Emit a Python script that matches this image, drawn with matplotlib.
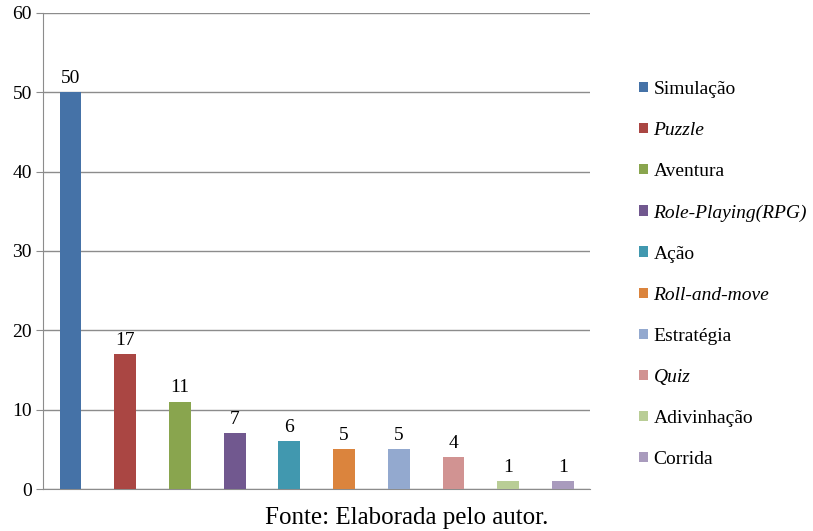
import matplotlib.pyplot as plt

plt.rcParams['font.family'] = ['Liberation Serif', 'DejaVu Serif']

generos = ['Simulação', 'Puzzle', 'Aventura', 'Role-Playing(RPG)', 'Ação',
           'Roll-and-move', 'Estratégia', 'Quiz', 'Adivinhação', 'Corrida']
quantidade = [50, 17, 11, 7, 6, 5, 5, 4, 1, 1]
italico = [False, True, False, True, False, True, False, True, False, False]
cores = ['#4572A7', '#AA4643', '#89A54E', '#71588F', '#4198AF',
         '#DB843D', '#93A9CF', '#D19392', '#B9CD96', '#A99BBD']

fig = plt.figure(figsize=(8.13, 5.31), dpi=100)
ax = fig.add_axes([0.053, 0.079, 0.673, 0.897])

x = range(len(generos))
barras = ax.bar(x, quantidade, width=0.4, color=cores, zorder=3)
for xi, v in zip(x, quantidade):
    ax.annotate(str(v), (xi, v), xytext=(0, 4), textcoords='offset points',
                ha='center', va='bottom', fontsize=14)

ax.set_xlim(-0.5, len(generos) - 0.5)
ax.set_ylim(0, 60)
ax.set_yticks(range(0, 61, 10))
ax.set_xticks([])
ax.yaxis.grid(True, color='#8c8c8c', lw=1, zorder=0)
for s in ['top', 'right']:
    ax.spines[s].set_visible(False)
for s in ['left', 'bottom']:
    ax.spines[s].set_color('#8c8c8c')
ax.tick_params(axis='y', length=5, color='#8c8c8c', labelsize=14, pad=3)

leg = fig.legend(barras, generos, loc='center left', bbox_to_anchor=(0.774, 0.483),
                 frameon=False, fontsize=14, handlelength=0.45, handleheight=0.45,
                 handletextpad=0.3, labelspacing=1.24, borderpad=0)
for t, it in zip(leg.get_texts(), italico):
    if it:
        t.set_fontstyle('italic')

fig.text(0.5, 0.024, 'Fonte: Elaborada pelo autor.', ha='center', va='center', fontsize=18)

fig.savefig('out.png', dpi=100)
